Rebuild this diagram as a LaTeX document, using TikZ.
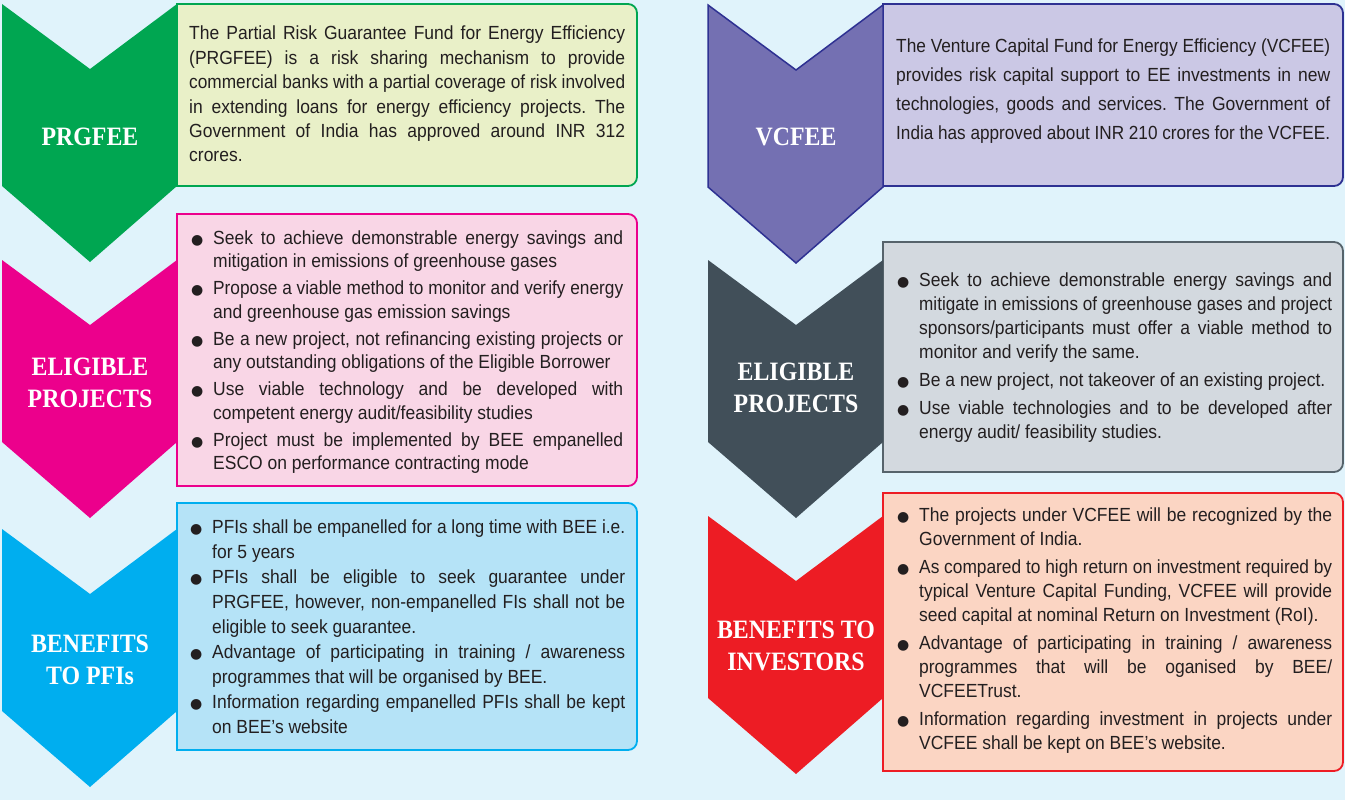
\documentclass[tikz,border=0pt]{standalone}
\usepackage{fontspec}
\usepackage{graphicx}
\setmainfont{Liberation Sans}[FakeStretch=0.92]
\newfontfamily\lbl{Liberation Serif}[FakeStretch=0.9]
\newfontfamily\djv{DejaVu Sans}
\frenchspacing
\definecolor{bg}{HTML}{E0F3FB}
\definecolor{txt}{HTML}{231F20}
\definecolor{cgreen}{HTML}{00A651}
\definecolor{fgreen}{HTML}{E9F0C8}
\definecolor{cpink}{HTML}{EC008C}
\definecolor{fpink}{HTML}{F9D6E6}
\definecolor{cblue}{HTML}{00AEEF}
\definecolor{fblue}{HTML}{B5E3F7}
\definecolor{cpurple}{HTML}{7470B2}
\definecolor{dpurple}{HTML}{2E3192}
\definecolor{fpurple}{HTML}{CBC8E5}
\definecolor{cdark}{HTML}{414F59}
\definecolor{ddark}{HTML}{56636B}
\definecolor{fdark}{HTML}{D3D9DF}
\definecolor{cred}{HTML}{ED1C24}
\definecolor{fred}{HTML}{FBD5C3}
\newlength\lw
\newcommand\bul{{\djv\fontsize{14}{14}\selectfont ●}}
\newcommand\bb{\makebox[22pt][l]{\bul}}
\newcommand\JL[2][]{\setbox0=\hbox{#2}\ifdim\wd0>\lw\hbox to\lw{\llap{#1}\resizebox{\lw}{\height}{#2}}\else\hbox to\lw{\llap{#1}#2}\fi}
\newcommand\LL[2][]{\setbox0=\hbox{#2}\ifdim\wd0>\lw\hbox to\lw{\llap{#1}\resizebox{\lw}{\height}{#2}}\else\hbox to\lw{\llap{#1}#2\hfil}\fi}
\newcommand\gap[1]{\vskip #1pt}
\newcommand\chev[3]{\path[#1] (#2,#3) -- ({#2+88},{#3+65}) -- ({#2+175},#3) -- ({#2+175},{#3+182}) -- ({#2+88},{#3+258}) -- (#2,{#3+182}) -- cycle;}
\newcommand\rbox[5]{\draw[#1] (#2,#3) -- ({#4-9},#3) arc[start angle=-90,end angle=0,radius=9] -- (#4,{#5-9}) arc[start angle=0,end angle=90,radius=9] -- (#2,#5) -- cycle;}
\begin{document}
\begin{tikzpicture}[x=1pt,y=-1pt,
  lab/.style={text=white,font=\lbl\bfseries\fontsize{26.5}{32}\selectfont,align=center,inner sep=0pt},
  tb/.style={text=txt,font=\fontsize{19}{24}\selectfont,inner sep=0pt,anchor=base west},
  bx/.style={line width=1.8pt}]
\fill[bg] (0,0) rectangle (1345,800);
\useasboundingbox (0,0) rectangle (1345,800);
% boxes
\rbox{bx,draw=cgreen,fill=fgreen}{177}{4}{637}{186}
\rbox{bx,draw=cpink,fill=fpink}{177}{214}{637}{486}
\rbox{bx,draw=cblue,fill=fblue}{177}{503}{637}{750}
\rbox{bx,draw=dpurple,fill=fpurple}{883}{4}{1343}{186}
\rbox{bx,draw=ddark,fill=fdark}{883}{242}{1343}{472}
\rbox{bx,draw=cred,fill=fred}{883}{493}{1343}{771}
% chevrons
\chev{fill=cgreen}{2}{4}
\chev{fill=cpink}{2}{260}
\chev{fill=cblue}{2}{529}
\chev{fill=cpurple,draw=dpurple,line width=1.5pt}{708}{5}
\chev{fill=cdark}{708}{260}
\chev{fill=cred}{708}{516}
% labels
\node[lab] (l1) at (90,137) {PRGFEE};
\node[lab] (l2) at (90,383) {ELIGIBLE\\PROJECTS};
\node[lab] (l3) at (90,660) {BENEFITS\\TO PFIs};
\node[lab] (l4) at (796,137) {VCFEE};
\node[lab] (l5) at (796,388) {ELIGIBLE\\PROJECTS};
\node[lab] (l6) at (796,646) {BENEFITS TO\\INVESTORS};
% texts
\node[tb] (t1) at (189,40) {\vtop{\lw=436pt\hsize=\lw\baselineskip=24.4pt\lineskiplimit=-30pt\lineskip=0pt
\JL{The Partial Risk Guarantee Fund for Energy Efficiency}
\JL{(PRGFEE) is a risk sharing mechanism to provide}
\JL{commercial banks with a partial coverage of risk involved}
\JL{in extending loans for energy efficiency projects. The}
\JL{Government of India has approved around INR 312}
\LL{crores.}}};
\node[tb] (t2) at (213,244) {\vtop{\lw=410pt\hsize=\lw\baselineskip=23.5pt\lineskiplimit=-30pt\lineskip=0pt
\JL[\bb]{Seek to achieve demonstrable energy savings and}
\LL{mitigation in emissions of greenhouse gases}\gap{3.5}
\JL[\bb]{Propose a viable method to monitor and verify energy}
\LL{and greenhouse gas emission savings}\gap{3.5}
\JL[\bb]{Be a new project, not refinancing existing projects or}
\LL{any outstanding obligations of the Eligible Borrower}\gap{3.5}
\JL[\bb]{Use viable technology and be developed with}
\LL{competent energy audit/feasibility studies}\gap{3.5}
\JL[\bb]{Project must be implemented by BEE empanelled}
\LL{ESCO on performance contracting mode}}};
\node[tb] (t3) at (212,533) {\vtop{\lw=413pt\hsize=\lw\baselineskip=25pt\lineskiplimit=-30pt\lineskip=0pt
\JL[\bb]{PFIs shall be empanelled for a long time with BEE i.e.}
\LL{for 5 years}
\JL[\bb]{PFIs shall be eligible to seek guarantee under}
\JL{PRGFEE, however, non-empanelled FIs shall not be}
\LL{eligible to seek guarantee.}
\JL[\bb]{Advantage of participating in training / awareness}
\LL{programmes that will be organised by BEE.}
\JL[\bb]{Information regarding empanelled PFIs shall be kept}
\LL{on BEE's website}}};
\node[tb] (t4) at (896,53) {\vtop{\lw=434pt\hsize=\lw\baselineskip=28.7pt\lineskiplimit=-30pt\lineskip=0pt
\JL{The Venture Capital Fund for Energy Efficiency (VCFEE)}
\JL{provides risk capital support to EE investments in new}
\JL{technologies, goods and services. The Government of}
\LL{India has approved about INR 210 crores for the VCFEE.}}};
\node[tb] (t5) at (919,286) {\vtop{\lw=413pt\hsize=\lw\baselineskip=24pt\lineskiplimit=-30pt\lineskip=0pt
\JL[\bb]{Seek to achieve demonstrable energy savings and}
\JL{mitigate in emissions of greenhouse gases and project}
\JL{sponsors/participants must offer a viable method to}
\LL{monitor and verify the same.}\gap{4}
\LL[\bb]{Be a new project, not takeover of an existing project.}\gap{4}
\JL[\bb]{Use viable technologies and to be developed after}
\LL{energy audit/ feasibility studies.}}};
\node[tb] (t6) at (919,521) {\vtop{\lw=413pt\hsize=\lw\baselineskip=24pt\lineskiplimit=-30pt\lineskip=0pt
\JL[\bb]{The projects under VCFEE will be recognized by the}
\LL{Government of India.}\gap{4}
\JL[\bb]{As compared to high return on investment required by}
\JL{typical Venture Capital Funding, VCFEE will provide}
\LL{seed capital at nominal Return on Investment (RoI).}\gap{4}
\JL[\bb]{Advantage of participating in training / awareness}
\JL{programmes that will be oganised by BEE/}
\LL{VCFEETrust.}\gap{4}
\JL[\bb]{Information regarding investment in projects under}
\LL{VCFEE shall be kept on BEE's website.}}};
\end{tikzpicture}
\end{document}
